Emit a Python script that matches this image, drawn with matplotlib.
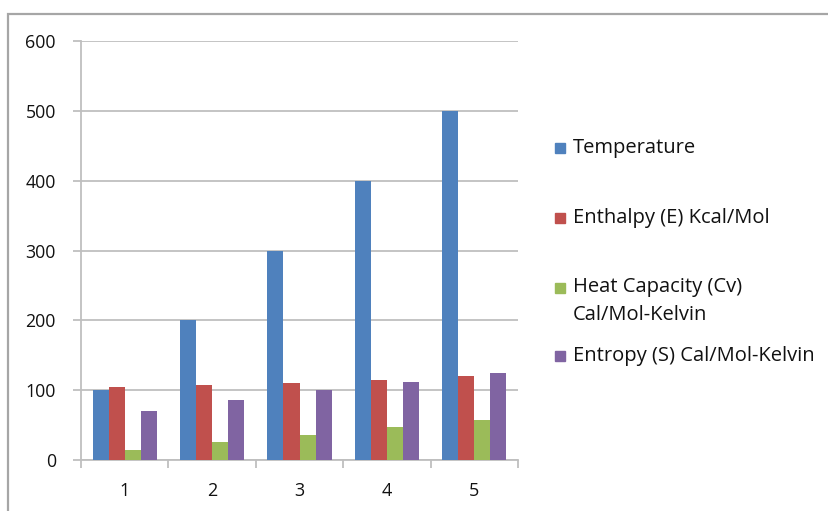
import numpy as np
import matplotlib
matplotlib.use('Agg')
import matplotlib.pyplot as plt
from matplotlib.patches import Rectangle

plt.rcParams['font.family'] = ['Open Sans', 'DejaVu Sans']

# data
categories = ['1', '2', '3', '4', '5']
temperature = [100, 200, 300, 400, 500]
enthalpy = [105, 107, 110, 114, 120]
heat_capacity = [15, 26, 36, 47, 57]
entropy = [70, 86, 100, 112, 124]

series_names = ['Temperature', 'Enthalpy (E) Kcal/Mol',
                'Heat Capacity (Cv)\nCal/Mol-Kelvin', 'Entropy (S) Cal/Mol-Kelvin']
colors = ['#4F81BD', '#C0504D', '#9BBB59', '#8064A2']
series = [temperature, enthalpy, heat_capacity, entropy]

grid_col = '#BFBFBF'
txt_col = '#111111'

fig = plt.figure(figsize=(8.29, 5.11), dpi=100)
ax = fig.add_axes([81 / 829, 1 - 460 / 511, 437 / 829, 419 / 511])

x = np.arange(len(categories))
w = 0.184
for i, (vals, c) in enumerate(zip(series, colors)):
    ax.bar(x + (i - 1.5) * w, vals, width=w, color=c, zorder=3)

ax.set_xlim(-0.5, len(categories) - 0.5)
ax.set_ylim(0, 600)
ax.set_yticks(np.arange(0, 601, 100))
ax.yaxis.grid(True, color=grid_col, linewidth=1.3, zorder=0)

# category boundaries as major ticks, labels on minor ticks
ax.set_xticks(np.arange(-0.5, len(categories), 1.0))
ax.set_xticklabels([])
ax.set_xticks(x, minor=True)
ax.set_xticklabels(categories, minor=True)
ax.tick_params(axis='x', which='major', length=6, width=1.3, color=grid_col, direction='out')
ax.tick_params(axis='x', which='minor', length=0, pad=16, labelsize=13, labelcolor=txt_col)
ax.tick_params(axis='y', length=6, width=1.3, color=grid_col, pad=12, labelsize=12.8,
               labelcolor=txt_col)

for s in ['top', 'right']:
    ax.spines[s].set_visible(False)
for s in ['left', 'bottom']:
    ax.spines[s].set_color(grid_col)
    ax.spines[s].set_linewidth(1.3)

# legend drawn by hand so the two-line entry keeps its marker on the first line
leg_y = [148, 218, 288, 356]
for name, c, yy in zip(series_names, colors, leg_y):
    fig.patches.append(Rectangle((555 / 829, 1 - (yy + 5) / 511), 10 / 829, 10 / 511,
                                 transform=fig.transFigure, color=c))
    if '\n' in name:
        fig.text(573 / 829, 1 - (yy - 11) / 511, name, fontsize=14.5, va='top',
                 ha='left', linespacing=1.5, color=txt_col)
    else:
        fig.text(573 / 829, 1 - yy / 511, name, fontsize=14.5, va='center',
                 ha='left', color=txt_col)

# chart frame
fig.patches.append(Rectangle((8 / 829, -0.1), 1.2, 1 - 14 / 511 + 0.1,
                             transform=fig.transFigure, fill=False,
                             edgecolor='#A6A6A6', linewidth=1.6))

fig.savefig('out.png', dpi=100)
